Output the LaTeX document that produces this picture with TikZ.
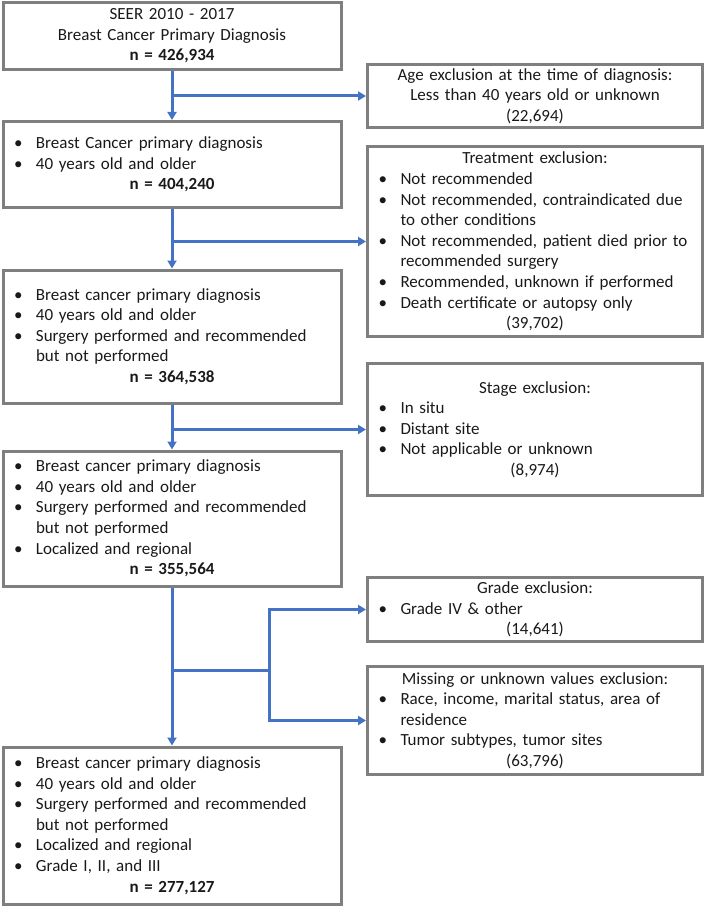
\documentclass[tikz,border=0pt]{standalone}
\usepackage{fontspec}
\setmainfont{Carlito}
\usetikzlibrary{arrows.meta}
\definecolor{boxgray}{HTML}{7F7F7F}
\definecolor{arrblue}{HTML}{4472C4}
\newcommand\bitem[1]{\hspace*{11pt}\makebox[22pt][l]{\textbullet}#1}
\newcommand\bcont[1]{\hspace*{33pt}#1}
\newcommand\cln[1]{\makebox[\linewidth][c]{#1}}
\begin{document}
\begin{tikzpicture}[x=1pt,y=-1pt,
  box/.style={draw=boxgray, line width=3pt, inner sep=0pt, align=left,
    font=\fontsize{17}{20.6}\selectfont, text=black!90},
  arr/.style={draw=arrblue, line width=3pt, -{Triangle[length=8pt,width=9pt]}},
  ln/.style={draw=arrblue, line width=3pt}]
\useasboundingbox (0,0) rectangle (708,909);
% left column
\node[box, text width=338pt, minimum height=67pt] (b1) at (172,36)
  {\cln{SEER 2010 - 2017}\\ \cln{Breast Cancer Primary Diagnosis}\\ \cln{\textbf{n = 426,934}}};
\node[box, text width=338pt, minimum height=86pt] (b2) at (172,164.5)
  {\bitem{Breast Cancer primary diagnosis}\\ \bitem{40 years old and older}\\ \cln{\textbf{n = 404,240}}};
\node[box, text width=338pt, minimum height=133pt] (b3) at (172,336.5)
  {\bitem{Breast cancer primary diagnosis}\\ \bitem{40 years old and older}\\ \bitem{Surgery performed and recommended}\\ \bcont{but not performed}\\ \cln{\textbf{n = 364,538}}};
\node[box, text width=338pt, minimum height=135pt] (b4) at (172,518.5)
  {\bitem{Breast cancer primary diagnosis}\\ \bitem{40 years old and older}\\ \bitem{Surgery performed and recommended}\\ \bcont{but not performed}\\ \bitem{Localized and regional}\\ \cln{\textbf{n = 355,564}}};
\node[box, text width=338pt, minimum height=157pt] (b5) at (172,825.5)
  {\bitem{Breast cancer primary diagnosis}\\ \bitem{40 years old and older}\\ \bitem{Surgery performed and recommended}\\ \bcont{but not performed}\\ \bitem{Localized and regional}\\ \bitem{Grade I, II, and III}\\ \cln{\textbf{n = 277,127}}};
% right column
\node[box, text width=335pt, minimum height=63pt] (r1) at (535,96)
  {\cln{Age exclusion at the time of diagnosis:}\\ \cln{Less than 40 years old or unknown}\\ \cln{(22,694)}};
\node[box, text width=335pt, minimum height=190pt] (r2) at (535,241.5)
  {\cln{Treatment exclusion:}\\ \bitem{Not recommended}\\ \bitem{Not recommended, contraindicated due}\\ \bcont{to other conditions}\\ \bitem{Not recommended, patient died prior to}\\ \bcont{recommended surgery}\\ \bitem{Recommended, unknown if performed}\\ \bitem{Death certificate or autopsy only}\\ \cln{(39,702)}};
\node[box, text width=335pt, minimum height=132pt] (r3) at (535,429.5)
  {\cln{Stage exclusion:}\\ \bitem{In situ}\\ \bitem{Distant site}\\ \bitem{Not applicable or unknown}\\ \cln{(8,974)}};
\node[box, text width=335pt, minimum height=64pt] (r4) at (535,609.5)
  {\cln{Grade exclusion:}\\ \bitem{Grade IV \& other}\\ \cln{(14,641)}};
\node[box, text width=335pt, minimum height=108pt] (r5) at (535,720.5)
  {\cln{Missing or unknown values exclusion:}\\ \bitem{Race, income, marital status, area of}\\ \bcont{residence}\\ \bitem{Tumor subtypes, tumor sites}\\ \cln{(63,796)}};
% connectors
\draw[arr] (b1) -- (b2);
\draw[arr] (b1.south |- r1.west) -- (r1.west);
\draw[arr] (b2) -- (b3);
\draw[arr] (b2.south |- r2.west) -- (r2.west);
\draw[arr] (b3) -- (b4);
\draw[arr] (b3.south |- r3.west) -- (r3.west);
\draw[arr] (b4) -- (b5);
\coordinate (j) at (269,670);
\draw[ln] (b4.south |- j) -- (j);
\draw[arr] (j) |- (r4.west);
\draw[arr] (j) |- (r5.west);
\end{tikzpicture}
\end{document}
